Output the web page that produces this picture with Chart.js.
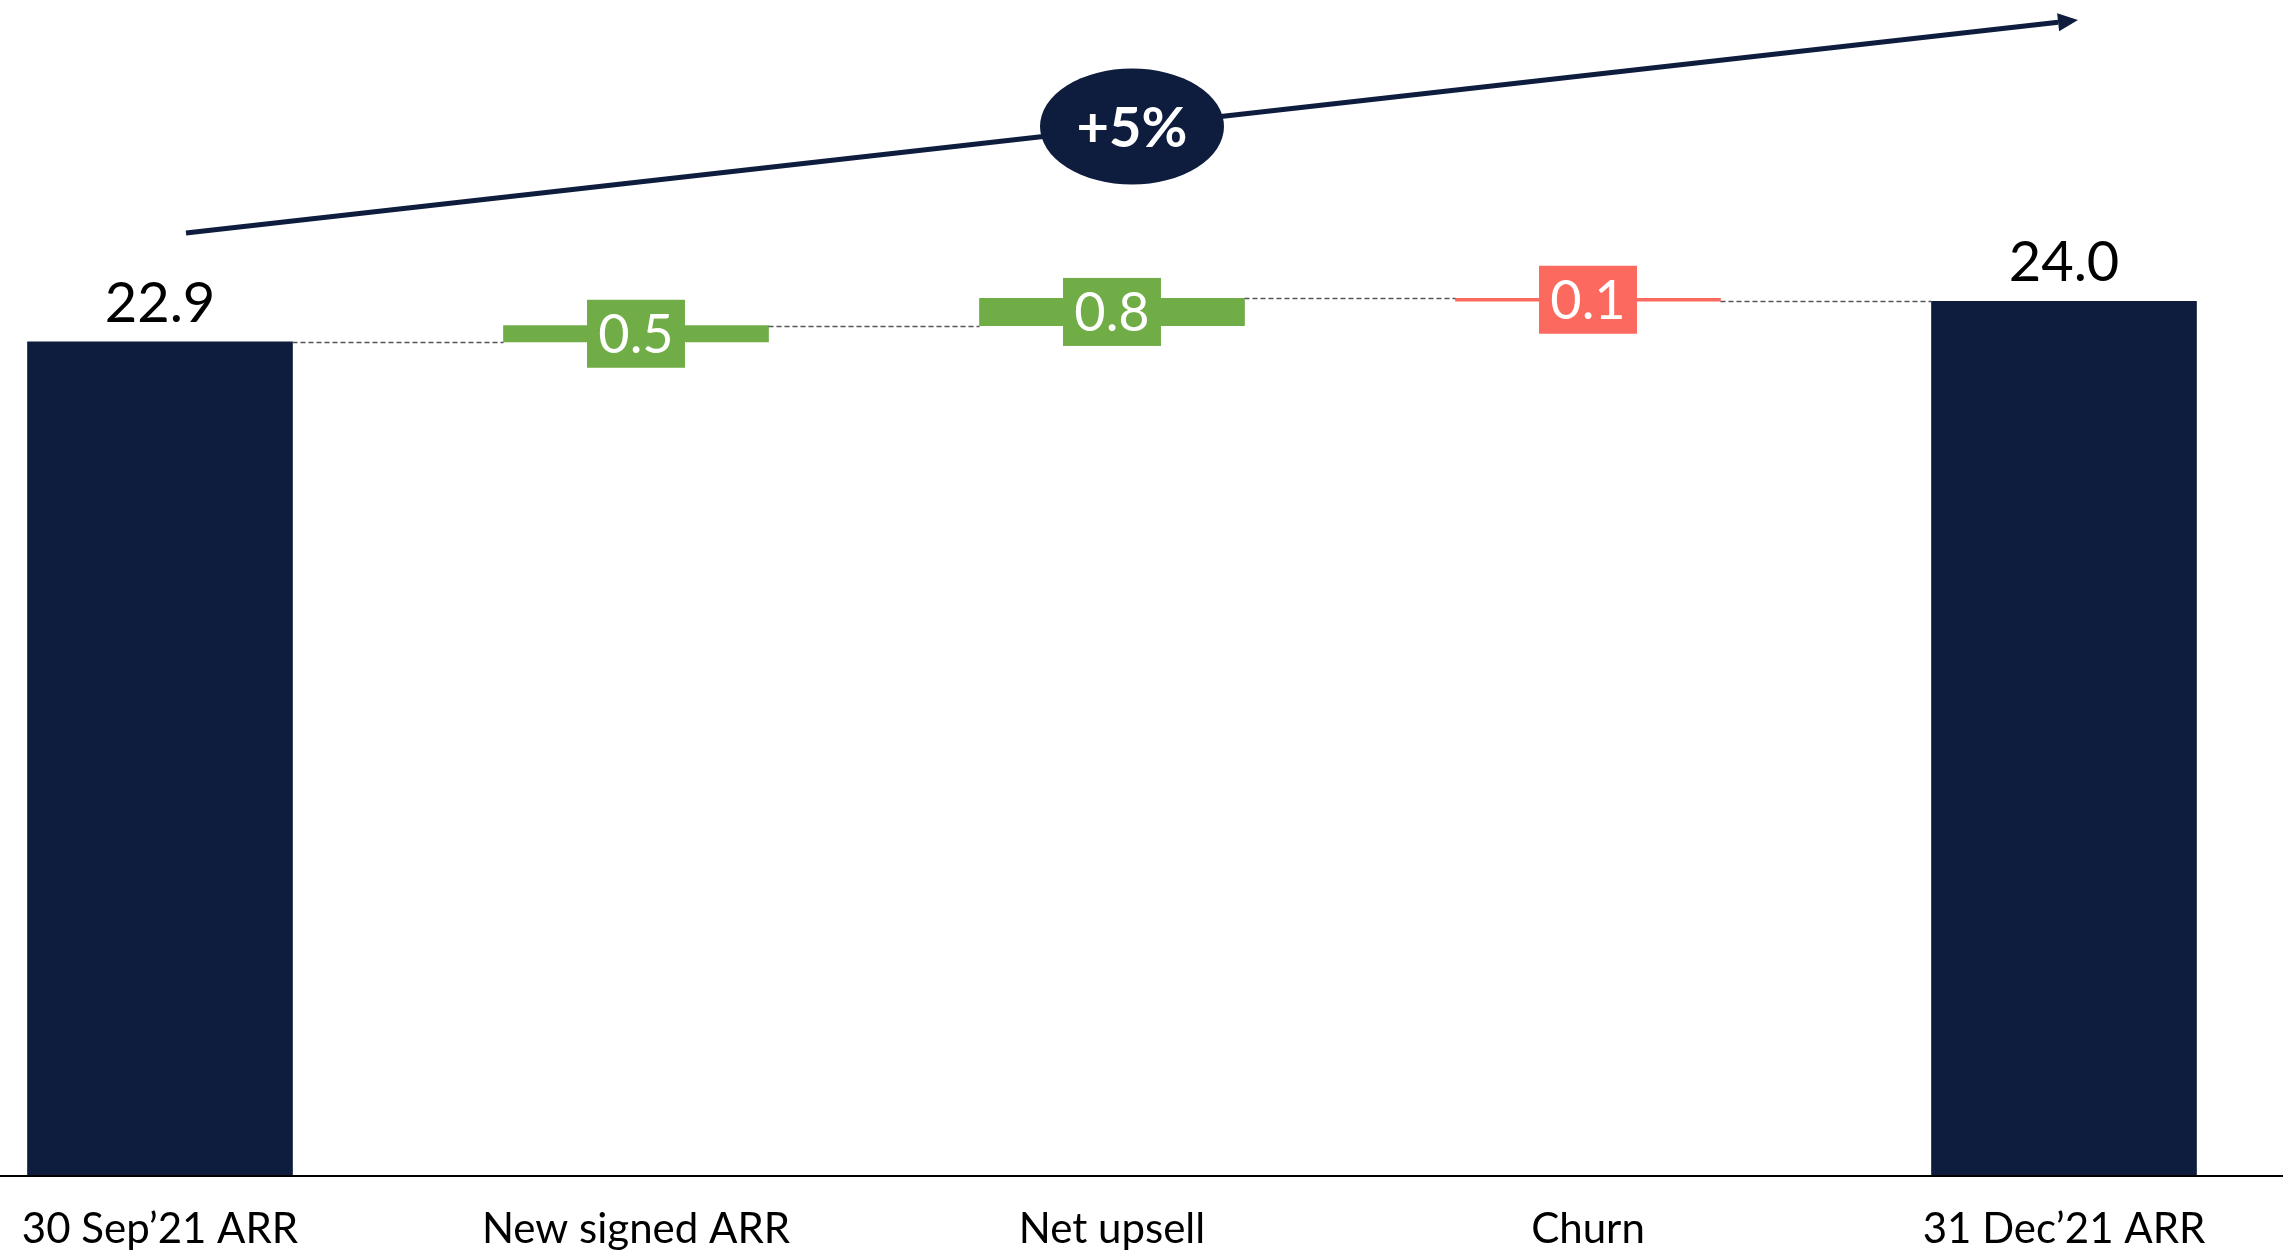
<!DOCTYPE html>
<html>
<head>
<meta charset="utf-8">
<script src="https://cdn.jsdelivr.net/npm/chart.js@4.4.1/dist/chart.umd.min.js"></script>
<style>
  html, body { margin: 0; padding: 0; background: #fff; }
  #wrap { width: 2283px; height: 1251px; }
</style>
</head>
<body>
<div id="wrap"><canvas id="arr-chart" width="2283" height="1251"></canvas></div>
<script>
const categories = ["30 Sep’21 ARR", "New signed ARR", "Net upsell", "Churn", "31 Dec’21 ARR"];
const openingArr = 22.9;
const movements = [0.45, 0.75, -0.08];   // new signed, net upsell, churn
const valueLabels = ["22.9", "0.5", "0.8", "0.1", "24.0"];
const growthLabel = "+5%";

const NAVY = "#0E1C3E";
const barColors = [NAVY, "#70AD47", "#70AD47", "#FC6A5F", NAVY];

// floating [from, to] pairs for the waterfall
const floating = [[0, openingArr]];
let level = openingArr;
movements.forEach(m => {
  floating.push([level, level + m]);
  level += m;
});
floating.push([0, level]);

const waterfallDecor = {
  id: "waterfallDecor",
  afterDatasetsDraw(chart) {
    const { ctx, chartArea, scales: { x, y } } = chart;
    const bars = chart.getDatasetMeta(0).data;
    ctx.save();

    // baseline across the whole width
    ctx.strokeStyle = "#000";
    ctx.lineWidth = 2;
    ctx.beginPath();
    ctx.moveTo(0, chartArea.bottom + 1);
    ctx.lineTo(chart.width, chartArea.bottom + 1);
    ctx.stroke();

    // dashed connectors between steps
    ctx.setLineDash([5, 3]);
    ctx.lineWidth = 1.5;
    ctx.strokeStyle = "#555";
    for (let i = 0; i < bars.length - 1; i++) {
      const a = bars[i], b = bars[i + 1];
      const lvl = Math.round(y.getPixelForValue(floating[i][1])) + 0.5;
      ctx.beginPath();
      ctx.moveTo(a.x + a.width / 2, lvl);
      ctx.lineTo(b.x - b.width / 2, lvl);
      ctx.stroke();
    }
    ctx.setLineDash([]);

    // value labels
    ctx.textAlign = "center";
    bars.forEach((bar, i) => {
      if (i === 0 || i === bars.length - 1) {
        ctx.fillStyle = "#000";
        ctx.font = "56px Lato";
        ctx.textBaseline = "alphabetic";
        ctx.fillText(valueLabels[i], bar.x, Math.min(bar.y, bar.base) - 20);
      } else {
        const mid = (bar.y + bar.base) / 2;
        ctx.fillStyle = barColors[i];
        ctx.fillRect(bar.x - 49, mid - 34, 98, 68);
        ctx.fillStyle = "#fff";
        ctx.font = "54px Lato";
        ctx.textBaseline = "middle";
        ctx.fillText(valueLabels[i], bar.x, mid + 2);
      }
    });

    // growth arrow with the +5% badge
    const x0 = x.getPixelForValue(0) + 26, y0 = 233;
    const x1 = x.getPixelForValue(categories.length - 1) + 14, y1 = 20;
    const ang = Math.atan2(y1 - y0, x1 - x0);
    const headLen = 20, headHalf = 9;
    ctx.strokeStyle = NAVY;
    ctx.fillStyle = NAVY;
    ctx.lineWidth = 5;
    ctx.beginPath();
    ctx.moveTo(x0, y0);
    ctx.lineTo(x1 - headLen * Math.cos(ang), y1 - headLen * Math.sin(ang));
    ctx.stroke();
    ctx.save();
    ctx.translate(x1, y1);
    ctx.rotate(ang);
    ctx.beginPath();
    ctx.moveTo(0, 0);
    ctx.lineTo(-headLen, -headHalf);
    ctx.lineTo(-headLen, headHalf);
    ctx.closePath();
    ctx.fill();
    ctx.restore();

    const cx = (x0 + x1) / 2, cy = (y0 + y1) / 2;
    ctx.beginPath();
    ctx.ellipse(cx, cy, 92, 58, 0, 0, Math.PI * 2);
    ctx.fill();
    ctx.fillStyle = "#fff";
    ctx.font = "bold 56px Lato";
    ctx.textBaseline = "middle";
    ctx.fillText(growthLabel, cx, cy + 2);

    ctx.restore();
  }
};

function draw() {
  const ctx = document.getElementById("arr-chart").getContext("2d");
  new Chart(ctx, {
    type: "bar",
    data: {
      labels: categories,
      datasets: [{
        data: floating,
        backgroundColor: barColors,
        borderWidth: 0,
        barThickness: 265,
        clip: false,
      }],
    },
    options: {
      responsive: false,
      animation: false,
      devicePixelRatio: 1,
      layout: { padding: { left: 160, right: 219, top: 0, bottom: 0 } },
      plugins: {
        legend: { display: false },
        tooltip: { enabled: false },
      },
      scales: {
        x: {
          offset: false,
          grid: { display: false },
          border: { display: false },
          ticks: {
            color: "#000",
            font: { family: "Lato", size: 42 },
            padding: 21,
            maxRotation: 0,
            autoSkip: false,
          },
          afterFit: (s) => { s.height = 76; },
        },
        y: { display: false, min: 0, max: 32.3 },
      },
    },
    plugins: [waterfallDecor],
  });
}

document.fonts.load("56px Lato").then(draw, draw);
</script>
</body>
</html>
